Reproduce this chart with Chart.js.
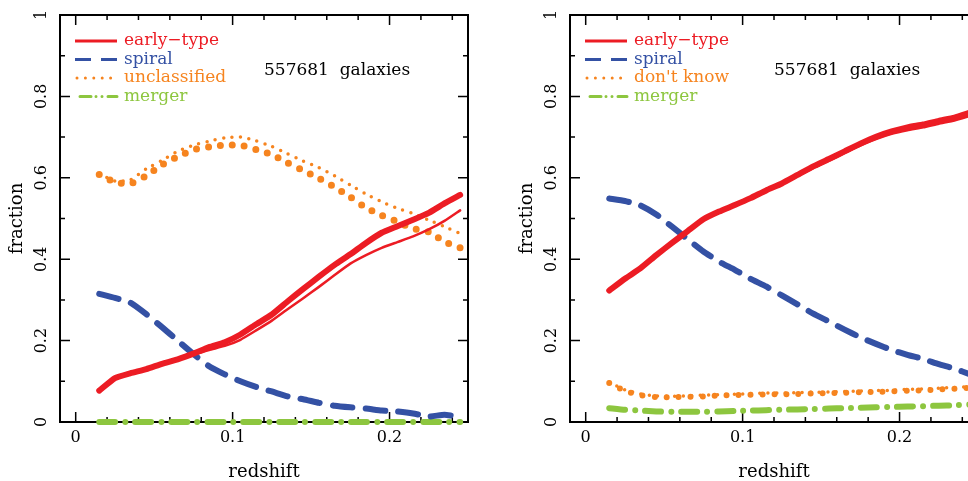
<!DOCTYPE html>
<html>
<head>
<meta charset="utf-8">
<script src="https://cdn.jsdelivr.net/npm/chart.js@4.4.1/dist/chart.umd.min.js"></script>
<style>
  html, body { margin: 0; padding: 0; background: #fff; overflow: hidden; }
  #wrap { position: relative; width: 968px; height: 481px; overflow: hidden; }
  canvas { position: absolute; top: 0; }
  #left { left: 0; }
  #right { left: 510px; }
</style>
</head>
<body>
<div id="wrap">
  <canvas id="left" width="484" height="481"></canvas>
  <canvas id="right" width="484" height="481"></canvas>
</div>
<script>
// redshift bins shared by every curve
const redshift = [0.015, 0.025, 0.035, 0.045, 0.055, 0.065, 0.075, 0.085, 0.095, 0.105, 0.115, 0.125,
                  0.135, 0.145, 0.155, 0.165, 0.175, 0.185, 0.195, 0.205, 0.215, 0.225, 0.235, 0.245];

const xTicks = [0, 0.02, 0.04, 0.06, 0.08, 0.1, 0.12, 0.14, 0.16, 0.18, 0.2, 0.22, 0.24];
const xMajor = [0, 0.1, 0.2];
const yTicks = [0, 0.1, 0.2, 0.3, 0.4, 0.5, 0.6, 0.7, 0.8, 0.9, 1];
const yMajor = [0, 0.2, 0.4, 0.6, 0.8, 1];
const galaxyCount = '557681  galaxies';

// left panel
const leftEarly = [0.077, 0.108, 0.120, 0.130, 0.143, 0.154, 0.168, 0.184, 0.196, 0.215, 0.240, 0.264,
                   0.296, 0.327, 0.357, 0.386, 0.412, 0.440, 0.465, 0.481, 0.497, 0.514, 0.537, 0.558];
const leftEarlyThin = [0.077, 0.108, 0.120, 0.130, 0.142, 0.152, 0.165, 0.177, 0.187, 0.202, 0.225, 0.249,
                       0.277, 0.304, 0.332, 0.361, 0.389, 0.410, 0.428, 0.442, 0.456, 0.473, 0.494, 0.520];
const leftSpiral = [0.315, 0.305, 0.293, 0.265, 0.233, 0.200, 0.167, 0.137, 0.117, 0.100, 0.086, 0.075,
                    0.063, 0.056, 0.047, 0.040, 0.036, 0.033, 0.028, 0.026, 0.021, 0.013, 0.018, 0.012];
const leftUnclassified = [0.608, 0.589, 0.586, 0.605, 0.632, 0.652, 0.669, 0.676, 0.680, 0.680, 0.669, 0.657,
                          0.637, 0.618, 0.599, 0.577, 0.553, 0.526, 0.508, 0.492, 0.475, 0.467, 0.443, 0.428];
const leftUnclassifiedThin = [0.610, 0.592, 0.595, 0.622, 0.643, 0.665, 0.680, 0.690, 0.698, 0.700, 0.691, 0.677,
                              0.659, 0.641, 0.625, 0.605, 0.582, 0.560, 0.541, 0.525, 0.512, 0.496, 0.480, 0.463];
const leftMerger = [0, 0, 0, 0, 0, 0, 0, 0, 0, 0, 0, 0,
                    0, 0, 0, 0, 0, 0, 0, 0, 0, 0, 0, 0];

// right panel
const rightEarly = [0.323, 0.352, 0.378, 0.410, 0.440, 0.469, 0.498, 0.517, 0.533, 0.550, 0.569, 0.586,
                    0.607, 0.628, 0.646, 0.665, 0.684, 0.701, 0.714, 0.724, 0.731, 0.740, 0.748, 0.760];
const rightEarlyThin = [0.321, 0.350, 0.376, 0.408, 0.438, 0.467, 0.496, 0.515, 0.531, 0.548, 0.567, 0.584,
                        0.604, 0.624, 0.642, 0.661, 0.679, 0.695, 0.708, 0.717, 0.724, 0.733, 0.741, 0.752];
const rightSpiral = [0.549, 0.543, 0.532, 0.510, 0.480, 0.449, 0.419, 0.394, 0.374, 0.352, 0.333, 0.311,
                     0.289, 0.266, 0.247, 0.227, 0.208, 0.192, 0.177, 0.165, 0.155, 0.142, 0.131, 0.117];
const rightDontKnow = [0.096, 0.076, 0.066, 0.061, 0.061, 0.062, 0.063, 0.065, 0.066, 0.067, 0.068, 0.068,
                       0.069, 0.070, 0.071, 0.072, 0.073, 0.074, 0.075, 0.077, 0.078, 0.080, 0.082, 0.084];
const rightDontKnowThin = [0.098, 0.079, 0.069, 0.064, 0.063, 0.064, 0.066, 0.067, 0.068, 0.070, 0.071, 0.071,
                           0.072, 0.073, 0.074, 0.075, 0.076, 0.077, 0.078, 0.080, 0.081, 0.083, 0.085, 0.087];
const rightMerger = [0.034, 0.030, 0.028, 0.026, 0.025, 0.025, 0.025, 0.026, 0.027, 0.028, 0.029, 0.030,
                     0.031, 0.032, 0.033, 0.034, 0.035, 0.036, 0.037, 0.038, 0.039, 0.040, 0.041, 0.043];

const RED = '#ec1c24', BLUE = '#3451a4', ORANGE = '#f6841f', GREEN = '#8dc63f';
const FONT = "'DejaVu Serif', serif";

function pts(ys) {
  return ys.map((y, i) => ({x: redshift[i], y: y}));
}

function series(label, ys, color, width, dash, legend) {
  return {
    label: label,
    data: pts(ys),
    borderColor: color,
    backgroundColor: color,
    borderWidth: width,
    borderDash: dash,
    borderCapStyle: 'round',
    borderJoinStyle: 'round',
    pointRadius: 0,
    tension: 0.15,
    fill: false,
    clip: 8,
    legend: legend
  };
}

// frame with inward ticks on all four sides
const frame = {
  id: 'frame',
  beforeDatasetsDraw(chart) {
    const {ctx, chartArea: a, scales: {x, y}} = chart;
    ctx.save();
    ctx.strokeStyle = '#000';
    ctx.lineWidth = 1.5;
    ctx.beginPath();
    x.ticks.forEach(t => {
      const px = x.getPixelForValue(t.value);
      const len = t.label ? 10 : 5;
      ctx.moveTo(px, a.bottom); ctx.lineTo(px, a.bottom - len);
      ctx.moveTo(px, a.top); ctx.lineTo(px, a.top + len);
    });
    y.ticks.forEach(t => {
      const py = y.getPixelForValue(t.value);
      const len = t.label ? 10 : 5;
      ctx.moveTo(a.left, py); ctx.lineTo(a.left + len, py);
      ctx.moveTo(a.right, py); ctx.lineTo(a.right - len, py);
    });
    ctx.stroke();
    ctx.lineWidth = 2;
    ctx.strokeRect(a.left, a.top, a.right - a.left, a.bottom - a.top);
    ctx.restore();
  }
};

// key in the upper left and the sample size
const key = {
  id: 'key',
  afterDatasetsDraw(chart) {
    const {ctx, chartArea: a} = chart;
    ctx.save();
    ctx.font = '17px ' + FONT;
    ctx.textBaseline = 'middle';
    ctx.textAlign = 'left';
    let row = 0;
    chart.data.datasets.forEach(ds => {
      if (!ds.legend) return;
      const yy = a.top + 26 + row * 18.5;
      ctx.strokeStyle = ds.borderColor;
      ctx.lineWidth = 3;
      ctx.lineCap = ds.legend.cap;
      ctx.setLineDash(ds.legend.dash);
      ctx.beginPath();
      ctx.moveTo(a.left + ds.legend.from, yy);
      ctx.lineTo(a.left + 57, yy);
      ctx.stroke();
      ctx.setLineDash([]);
      ctx.fillStyle = ds.borderColor;
      ctx.fillText(ds.label, a.left + 64, yy);
      row++;
    });
    ctx.fillStyle = '#000';
    ctx.fillText(galaxyCount, a.left + 204, a.top + 56);
    ctx.restore();
  }
};

function makeChart(id, datasets) {
  return new Chart(document.getElementById(id), {
    type: 'line',
    data: {datasets: datasets},
    options: {
      responsive: false,
      animation: false,
      devicePixelRatio: 1,
      layout: {padding: {top: 15, right: 16, left: 0, bottom: 0}},
      plugins: {legend: {display: false}, tooltip: {enabled: false}},
      scales: {
        x: {
          type: 'linear',
          min: -0.01,
          max: 0.25,
          afterBuildTicks: s => { s.ticks = xTicks.map(v => ({value: v})); },
          afterFit: s => { s.height = 59; },
          grid: {display: false, drawTicks: false},
          border: {display: false},
          ticks: {
            autoSkip: false,
            maxRotation: 0,
            padding: 6,
            color: '#000',
            font: {family: FONT, size: 16},
            callback: v => xMajor.includes(v) ? String(v) : ''
          },
          title: {
            display: true,
            text: 'redshift',
            color: '#000',
            font: {family: FONT, size: 18, lineHeight: 1},
            padding: {top: 0, bottom: 0}
          }
        },
        y: {
          min: 0,
          max: 1,
          afterBuildTicks: s => { s.ticks = yTicks.map(v => ({value: v})); },
          afterFit: s => { s.width = 60; },
          grid: {display: false, drawTicks: false},
          border: {display: false},
          ticks: {
            autoSkip: false,
            minRotation: 90,
            maxRotation: 90,
            crossAlign: 'center',
            padding: 5,
            color: '#000',
            font: {family: FONT, size: 16},
            callback: v => yMajor.includes(v) ? String(v) : ''
          },
          title: {
            display: true,
            text: 'fraction',
            color: '#000',
            font: {family: FONT, size: 18, lineHeight: 1},
            padding: {top: 8, bottom: 0}
          }
        }
      }
    },
    plugins: [frame, key]
  });
}

const solidKey = {dash: [], cap: 'butt', from: 15};
const dashKey = {dash: [16, 10], cap: 'butt', from: 15};
const dotKey = {dash: [0, 8.4], cap: 'round', from: 17};
const dashDotKey = {dash: [11, 5, 0, 6, 0, 6], cap: 'round', from: 20};

makeChart('left', [
  series('early\u2212type', leftEarly, RED, 6, [], solidKey),
  series('early thin', leftEarlyThin, RED, 2.5, [], null),
  series('spiral', leftSpiral, BLUE, 6, [20, 13], dashKey),
  series('unclassified', leftUnclassified, ORANGE, 7, [0, 12], dotKey),
  series('unclassified thin', leftUnclassifiedThin, ORANGE, 3.5, [0, 8.5], null),
  series('merger', leftMerger, GREEN, 6, [16, 10, 0, 10], dashDotKey)
]);

makeChart('right', [
  series('early\u2212type', rightEarly, RED, 6, [], solidKey),
  series('early thin', rightEarlyThin, RED, 2.5, [], null),
  series('spiral', rightSpiral, BLUE, 6, [20, 13], dashKey),
  series("don't know", rightDontKnow, ORANGE, 6, [0, 12], dotKey),
  series("don't know thin", rightDontKnowThin, ORANGE, 3.5, [0, 8.5], null),
  series('merger', rightMerger, GREEN, 6, [16, 10, 0, 10], dashDotKey)
]);
</script>
</body>
</html>
